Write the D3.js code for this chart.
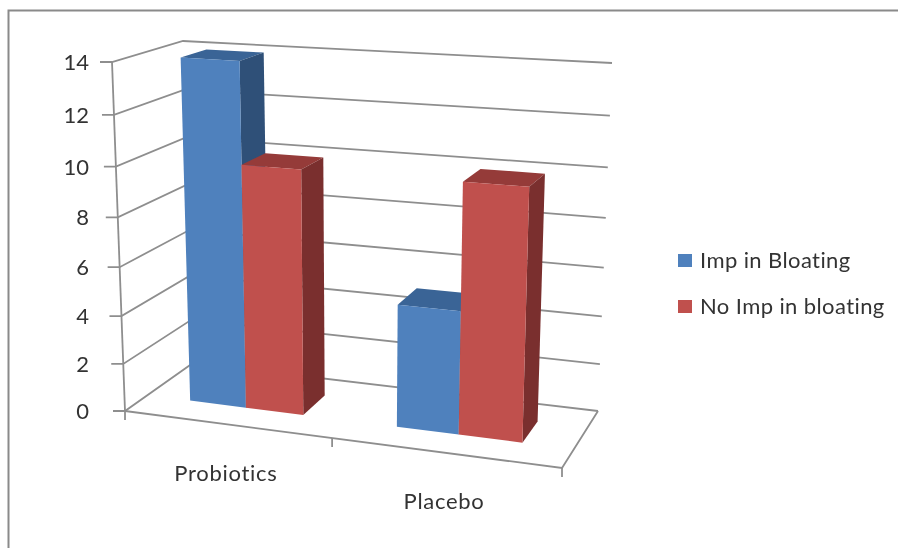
<!DOCTYPE html>
<html>
<head>
<meta charset="utf-8">
<script src="https://cdnjs.cloudflare.com/ajax/libs/d3/7.8.5/d3.min.js"></script>
<style>
  body { margin: 0; background: #fff; }
  svg { filter: blur(0.5px); }
  text { font-family: Lato, sans-serif; fill: #333; }
  .grid { fill: none; stroke: #8e8e8e; stroke-width: 1.8; }
</style>
</head>
<body>
<svg id="chart" width="898" height="548"></svg>
<script>
const categories = ['Probiotics', 'Placebo'];
const seriesNames = ['Imp in Bloating', 'No Imp in bloating'];
const impValues = [14, 5];
const noImpValues = [10, 10];
const tickValues = [0, 2, 4, 6, 8, 10, 12, 14];

const colors = [
  { front: '#4f81bd', side: '#2f5078', top: '#3a6496' },
  { front: '#c0504d', side: '#7a2f2e', top: '#953b39' }
];

const svg = d3.select('#chart');

// Page frame
svg.append('path')
  .attr('d', 'M8.5,548V10.5H898')
  .attr('fill', 'none')
  .attr('stroke', '#8a8a8a')
  .attr('stroke-width', 2);

// Corners of the 3d box on screen: [bottom, top] for each corner
const box = {
  frontLeft: [[125, 411], [112, 62]],
  frontRight: [[562, 468], [574, 89]],
  backLeft: [[193, 363], [183, 41]],
  backRight: [[598, 411], [612, 63]]
};

// Foreshortening along the width and height of the box
const warp = k => t => t / (t + k * (1 - t));
const warpU = warp(1.11);
const warpV = warp(1.07);

const mix = (a, b, t) => [a[0] + (b[0] - a[0]) * t, a[1] + (b[1] - a[1]) * t];

// u across the categories, v up the value axis, w into the depth (all 0-1)
const project = (u, v, w) => {
  const s = warpU(u);
  const t = warpV(v);
  const front = mix(
    mix(box.frontLeft[0], box.frontRight[0], s),
    mix(box.frontLeft[1], box.frontRight[1], s), t);
  const back = mix(
    mix(box.backLeft[0], box.backRight[0], s),
    mix(box.backLeft[1], box.backRight[1], s), t);
  return mix(front, back, w);
};

const xBand = d3.scaleBand().domain(categories).range([0, 1]).paddingInner(0.44).paddingOuter(0.22);
const xSeries = d3.scaleBand().domain(seriesNames).range([0, xBand.bandwidth()]);
const yScale = d3.scaleLinear().domain([0, 14]).range([0, 1]);
const zScale = { near: 0.33, far: 0.71 };

const line = d3.line();
const poly = pts => line(pts) + 'Z';

// Gridlines on the side wall and back wall
const gridGroup = svg.append('g');
gridGroup.selectAll('path').data(tickValues).enter().append('path')
  .attr('class', 'grid')
  .attr('d', d => line([
    [project(0, yScale(d), 0)[0] - 12, project(0, yScale(d), 0)[1]],
    project(0, yScale(d), 0),
    project(0, yScale(d), 1),
    project(1, yScale(d), 1)
  ]));

// Axis lines and floor
const axisGroup = svg.append('g');
axisGroup.append('path').attr('class', 'grid')
  .attr('d', line([project(0, 0, 0), project(0, 1, 0)]));
axisGroup.append('path').attr('class', 'grid')
  .attr('d', line([project(0, 0, 0), project(1, 0, 0), project(1, 0, 1)]));
axisGroup.selectAll('.tick').data([0, 0.5, 1]).enter().append('path')
  .attr('class', 'grid tick')
  .attr('d', d => {
    const p = project(d, 0, 0);
    return line([p, [p[0], p[1] + 9]]);
  });

// Bars, drawn series by series so the red fronts cover the blue sides
const rows = [];
categories.forEach((c, i) => {
  seriesNames.forEach((s, j) => {
    rows.push({ category: c, series: s, j, value: (j === 0 ? impValues : noImpValues)[i] });
  });
});

const bars = svg.append('g').selectAll('g').data(rows).enter().append('g');
bars.each(function (d) {
  const u0 = xBand(d.category) + xSeries(d.series);
  const u1 = u0 + xSeries.bandwidth();
  const v = yScale(d.value);
  const { near, far } = zScale;
  const g = d3.select(this);
  g.append('path').attr('fill', colors[d.j].top).attr('d', poly([
    project(u0, v, near), project(u1, v, near), project(u1, v, far), project(u0, v, far)
  ]));
  g.append('path').attr('fill', colors[d.j].side).attr('d', poly([
    project(u1, 0, near), project(u1, v, near), project(u1, v, far), project(u1, 0, far)
  ]));
  g.append('path').attr('fill', colors[d.j].front).attr('d', poly([
    project(u0, 0, near), project(u1, 0, near), project(u1, v, near), project(u0, v, near)
  ]));
});

// Value labels
svg.append('g').selectAll('text').data(tickValues).enter().append('text')
  .attr('x', 89)
  .attr('y', d => project(0, yScale(d), 0)[1] + 8)
  .attr('text-anchor', 'end')
  .attr('font-size', 22)
  .text(d => d);

// Category labels
const categoryY = [481, 509];
svg.append('g').selectAll('text').data(categories).enter().append('text')
  .attr('x', d => project(xBand(d) + xBand.bandwidth() / 2, 0, 0)[0])
  .attr('y', (d, i) => categoryY[i])
  .attr('text-anchor', 'middle')
  .attr('font-size', 22)
  .attr('letter-spacing', 0.7)
  .text(d => d);

// Legend
const legend = svg.append('g').selectAll('g').data(seriesNames).enter().append('g')
  .attr('transform', (d, i) => `translate(678,${254 + i * 46})`);
legend.append('rect')
  .attr('width', 14)
  .attr('height', 13)
  .attr('fill', (d, i) => colors[i].front);
legend.append('text')
  .attr('x', 22)
  .attr('y', 14)
  .attr('font-size', 22)
  .attr('letter-spacing', 0.4)
  .text(d => d);
</script>
</body>
</html>
